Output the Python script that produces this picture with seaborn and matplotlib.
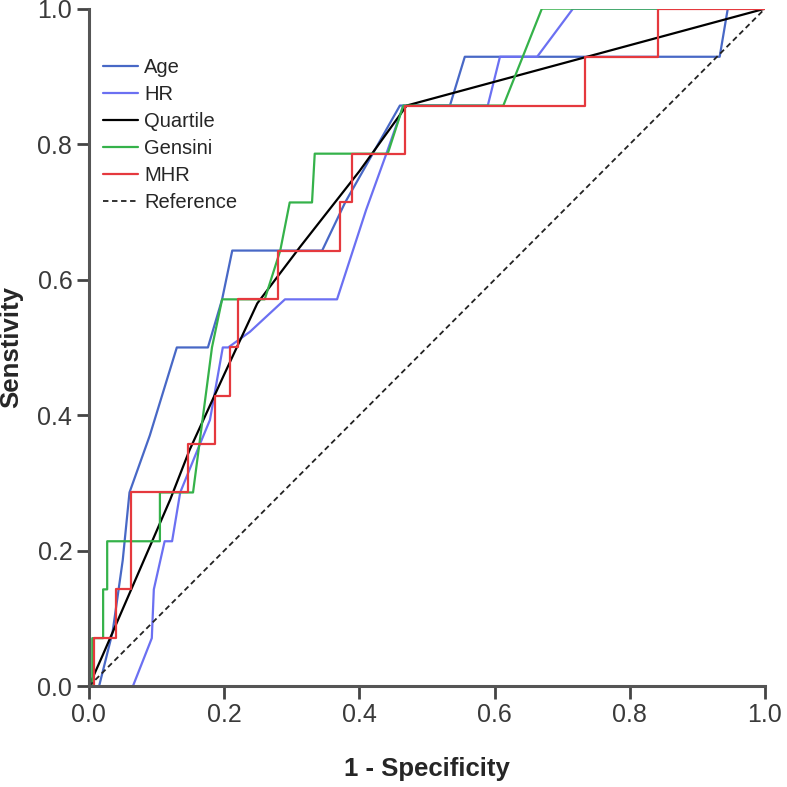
import matplotlib
matplotlib.use("Agg")
import matplotlib.pyplot as plt
import seaborn as sns
import pandas as pd

# ROC curves (x = 1 - specificity, y = sensitivity)
age_x = [0.0, 0.015, 0.035, 0.05, 0.06, 0.09, 0.13, 0.176, 0.197, 0.212, 0.345, 0.379, 0.46, 0.534, 0.556, 0.933, 0.945, 1.0]
age_y = [0.0, 0.0, 0.08, 0.186, 0.286, 0.37, 0.5, 0.5, 0.571, 0.643, 0.643, 0.714, 0.857, 0.857, 0.929, 0.929, 1.0, 1.0]

hr_x = [0.0, 0.065, 0.093, 0.096, 0.112, 0.123, 0.135, 0.164, 0.179, 0.198, 0.206, 0.238, 0.29, 0.367, 0.41, 0.44, 0.465, 0.59, 0.608, 0.663, 0.716, 1.0]
hr_y = [0.0, 0.0, 0.071, 0.143, 0.214, 0.214, 0.286, 0.357, 0.393, 0.5, 0.5, 0.523, 0.571, 0.571, 0.703, 0.786, 0.857, 0.857, 0.929, 0.929, 1.0, 1.0]

quart_x = [0.0, 0.02, 0.12, 0.149, 0.2, 0.249, 0.312, 0.4, 0.47, 1.0]
quart_y = [0.0, 0.045, 0.275, 0.349, 0.46, 0.565, 0.648, 0.76, 0.857, 1.0]

gens_x = [0.0, 0.005, 0.005, 0.021, 0.021, 0.027, 0.027, 0.105, 0.105, 0.154, 0.182, 0.197, 0.26, 0.283, 0.297, 0.33, 0.334, 0.442, 0.465, 0.613, 0.67, 1.0]
gens_y = [0.0, 0.0, 0.071, 0.071, 0.143, 0.143, 0.214, 0.214, 0.286, 0.286, 0.5, 0.571, 0.571, 0.643, 0.714, 0.714, 0.786, 0.786, 0.857, 0.857, 1.0, 1.0]

mhr_x = [0.0, 0.007, 0.007, 0.04, 0.04, 0.062, 0.062, 0.147, 0.147, 0.186, 0.186, 0.209, 0.209, 0.22, 0.22, 0.28, 0.28, 0.371, 0.371, 0.389, 0.389, 0.467, 0.467, 0.734, 0.734, 0.842, 0.842, 1.0]
mhr_y = [0.0, 0.0, 0.071, 0.071, 0.143, 0.143, 0.286, 0.286, 0.357, 0.357, 0.429, 0.429, 0.5, 0.5, 0.571, 0.571, 0.643, 0.643, 0.714, 0.714, 0.786, 0.786, 0.857, 0.857, 0.929, 0.929, 1.0, 1.0]

ref_x = [0.0, 1.0]
ref_y = [0.0, 1.0]

ticks = [0.0, 0.2, 0.4, 0.6, 0.8, 1.0]

sns.set_style("white")
plt.rcParams['font.family'] = ['Liberation Sans', 'DejaVu Sans']

fig = plt.figure(figsize=(7.87, 7.87), dpi=100)
ax = fig.add_axes([0.113, 0.128, 0.859, 0.861])

curves = [
    ("Age", age_x, age_y, "#4868c6"),
    ("HR", hr_x, hr_y, "#6b70f2"),
    ("Quartile", quart_x, quart_y, "#000000"),
    ("Gensini", gens_x, gens_y, "#35b24a"),
    ("MHR", mhr_x, mhr_y, "#e5393e"),
]

for name, xs, ys, col in curves:
    df = pd.DataFrame({"x": xs, "y": ys})
    sns.lineplot(data=df, x="x", y="y", sort=False, estimator=None,
                 color=col, linewidth=1.6, label=name, ax=ax)

ref = pd.DataFrame({"x": ref_x, "y": ref_y})
sns.lineplot(data=ref, x="x", y="y", sort=False, estimator=None, color="#222222",
             linewidth=1.3, linestyle=(0, (3, 2)), label="Reference", ax=ax)

ax.set_xlim(0, 1)
ax.set_ylim(0, 1)
ax.set_xticks(ticks)
ax.set_yticks(ticks)
ax.set_xticklabels([f"{t:.1f}" for t in ticks])
ax.set_yticklabels([f"{t:.1f}" for t in ticks])
ax.tick_params(axis="both", direction="out", length=9, width=2, color="#444444",
               labelsize=18, labelcolor="#3a3a3a", pad=3, left=True, bottom=True)

for side in ["top", "right"]:
    ax.spines[side].set_visible(False)
for side in ["left", "bottom"]:
    ax.spines[side].set_linewidth(2.2)
    ax.spines[side].set_color("#555555")

ax.set_xlabel("1 - Specificity", fontsize=18.5, fontweight="bold", labelpad=22)
ax.set_ylabel("Senstivity", fontsize=18.5, fontweight="bold", labelpad=10)

leg = ax.legend(loc="upper left", bbox_to_anchor=(0.0, 0.948), frameon=False,
                fontsize=14.5, handlelength=1.75, handletextpad=0.3, labelspacing=0.4,
                borderaxespad=0.3)

fig.savefig("out.png", dpi=100)
